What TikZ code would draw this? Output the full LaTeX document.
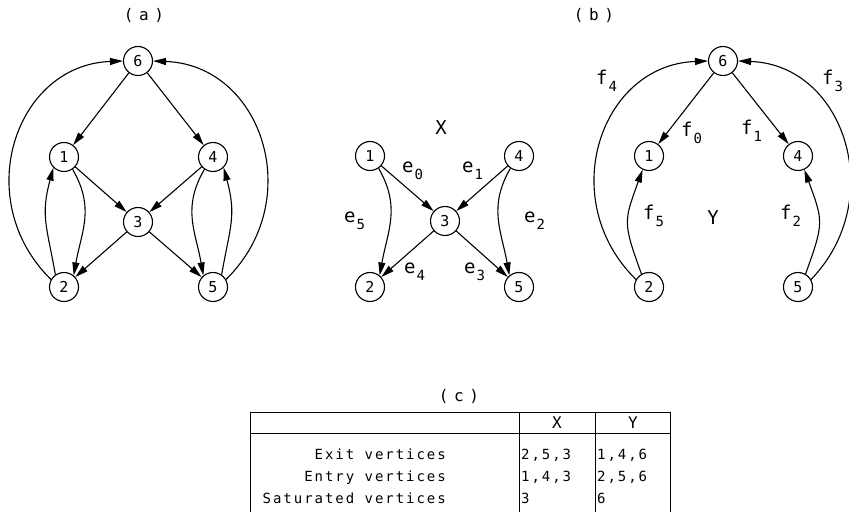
\documentclass[tikz,border=0pt]{standalone}
\usepackage{fontspec}
\setmainfont{DejaVu Sans Mono}
\newfontfamily\tabfont[LetterSpace=14]{DejaVu Sans Mono}
\newfontfamily\panfont[LetterSpace=35]{DejaVu Sans Mono}
\usetikzlibrary{arrows.meta}
\newcommand\edgelab[2]{#1\hspace{1pt}\raisebox{-7pt}{\fontsize{14}{14}\selectfont #2}}
\tikzset{
  vtx/.style={circle, draw, line width=1.1pt, minimum size=29pt, inner sep=0pt, font=\fontsize{15}{15}\selectfont},
  arr/.style={line width=1.1pt, -{Triangle[length=13pt,width=7pt]}},
  lbl/.style={font=\fontsize{19}{19}\selectfont, inner sep=0pt, anchor=base west},
  big/.style={font=\fontsize{19}{19}\selectfont, inner sep=0pt},
  pan/.style={font=\fontsize{16}{16}\panfont, inner sep=0pt},
  tab/.style={font=\fontsize{14}{14}\tabfont, inner sep=0pt},
  hdr/.style={font=\fontsize{16}{16}\selectfont, inner sep=0pt},
  tline/.style={line width=1pt},
}
\begin{document}
\begin{tikzpicture}[x=1pt,y=1pt]
\useasboundingbox (0,0) rectangle (849,512);

% panel labels
\node[pan] (pa) at (144,497) {(a)};
\node[pan] (pb) at (594,497) {(b)};
\node[pan] (pc) at (459,116) {(c)};

% ---------- (a)
\node[vtx] (6a) at (138,451) {6};
\node[vtx] (1a) at (64,355) {1};
\node[vtx] (4a) at (213,355) {4};
\node[vtx] (3a) at (138,290) {3};
\node[vtx] (2a) at (64,225) {2};
\node[vtx] (5a) at (213,225) {5};
\draw[arr] (6a) -- (1a);
\draw[arr] (6a) -- (4a);
\draw[arr] (1a) -- (3a);
\draw[arr] (4a) -- (3a);
\draw[arr] (3a) -- (2a);
\draw[arr] (3a) -- (5a);
\draw[arr] (1a.-55) .. controls +(-60:45) and +(80:45) .. (2a.50);
\draw[arr] (2a.125) .. controls +(100:50) and +(-105:50) .. (1a.-135);
\draw[arr] (4a.-125) .. controls +(-120:45) and +(100:45) .. (5a.130);
\draw[arr] (5a.55) .. controls +(80:50) and +(-75:50) .. (4a.-45);
\draw[arr] (2a.150) .. controls (-30,312) and (15,447) .. (6a.west);
\draw[arr] (5a.30) .. controls (307,312) and (262,447) .. (6a.east);

% ---------- middle (X)
\node[vtx] (1m) at (370,356) {1};
\node[vtx] (4m) at (519,356) {4};
\node[vtx] (3m) at (445,291) {3};
\node[vtx] (2m) at (370,225) {2};
\node[vtx] (5m) at (519,225) {5};
\draw[arr] (1m) -- (3m);
\draw[arr] (4m) -- (3m);
\draw[arr] (3m) -- (2m);
\draw[arr] (3m) -- (5m);
\draw[arr] (1m.-55) .. controls +(-60:45) and +(80:45) .. (2m.50);
\draw[arr] (4m.-125) .. controls +(-120:45) and +(100:45) .. (5m.130);
\node[big] (X) at (441,384) {X};
\node[lbl] (e0) at (402,339) {\edgelab{e}{0}};
\node[lbl] (e1) at (462,339) {\edgelab{e}{1}};
\node[lbl] (e5) at (344,289) {\edgelab{e}{5}};
\node[lbl] (e2) at (524,289) {\edgelab{e}{2}};
\node[lbl] (e4) at (404,238) {\edgelab{e}{4}};
\node[lbl] (e3) at (464,238) {\edgelab{e}{3}};

% ---------- (b)
\node[vtx] (6b) at (723,451) {6};
\node[vtx] (1b) at (649,356) {1};
\node[vtx] (4b) at (798,356) {4};
\node[vtx] (2b) at (649,225) {2};
\node[vtx] (5b) at (798,225) {5};
\draw[arr] (6b) -- (1b);
\draw[arr] (6b) -- (4b);
\draw[arr] (2b.120) .. controls +(110:55) and +(-110:55) .. (1b.-115);
\draw[arr] (5b.60) .. controls +(70:55) and +(-70:55) .. (4b.-65);
\draw[arr] (2b.150) .. controls (555,312) and (600,447) .. (6b.west);
\draw[arr] (5b.30) .. controls (888,312) and (845,447) .. (6b.east);
\node[big] (Y) at (713,294) {Y};
\node[lbl] (f4) at (596,427) {\edgelab{f}{4}};
\node[lbl] (f3) at (822,427) {\edgelab{f}{3}};
\node[lbl] (f0) at (681,375) {\edgelab{f}{0}};
\node[lbl] (f1) at (741,377) {\edgelab{f}{1}};
\node[lbl] (f5) at (643,292) {\edgelab{f}{5}};
\node[lbl] (f2) at (780,292) {\edgelab{f}{2}};

% ---------- (c) table
\draw[tline] (250,0) -- (250,100) -- (670,100) -- (670,0);
\draw[tline] (250,79) -- (670,79);
\draw[tline] (519,0) -- (519,100);
\draw[tline] (595,0) -- (595,100);
\node[hdr] (hx) at (557,89) {X};
\node[hdr] (hy) at (633,89) {Y};
\node[tab, anchor=base east] (r1) at (446,53) {Exit vertices};
\node[tab, anchor=base east] (r2) at (446,31) {Entry vertices};
\node[tab, anchor=base east] (r3) at (446,9) {Saturated vertices};
\node[tab, anchor=base west] (c11) at (521,53) {2,5,3};
\node[tab, anchor=base west] (c12) at (597,53) {1,4,6};
\node[tab, anchor=base west] (c21) at (521,31) {1,4,3};
\node[tab, anchor=base west] (c22) at (597,31) {2,5,6};
\node[tab, anchor=base west] (c31) at (521,9) {3};
\node[tab, anchor=base west] (c32) at (597,9) {6};
\end{tikzpicture}
\end{document}
